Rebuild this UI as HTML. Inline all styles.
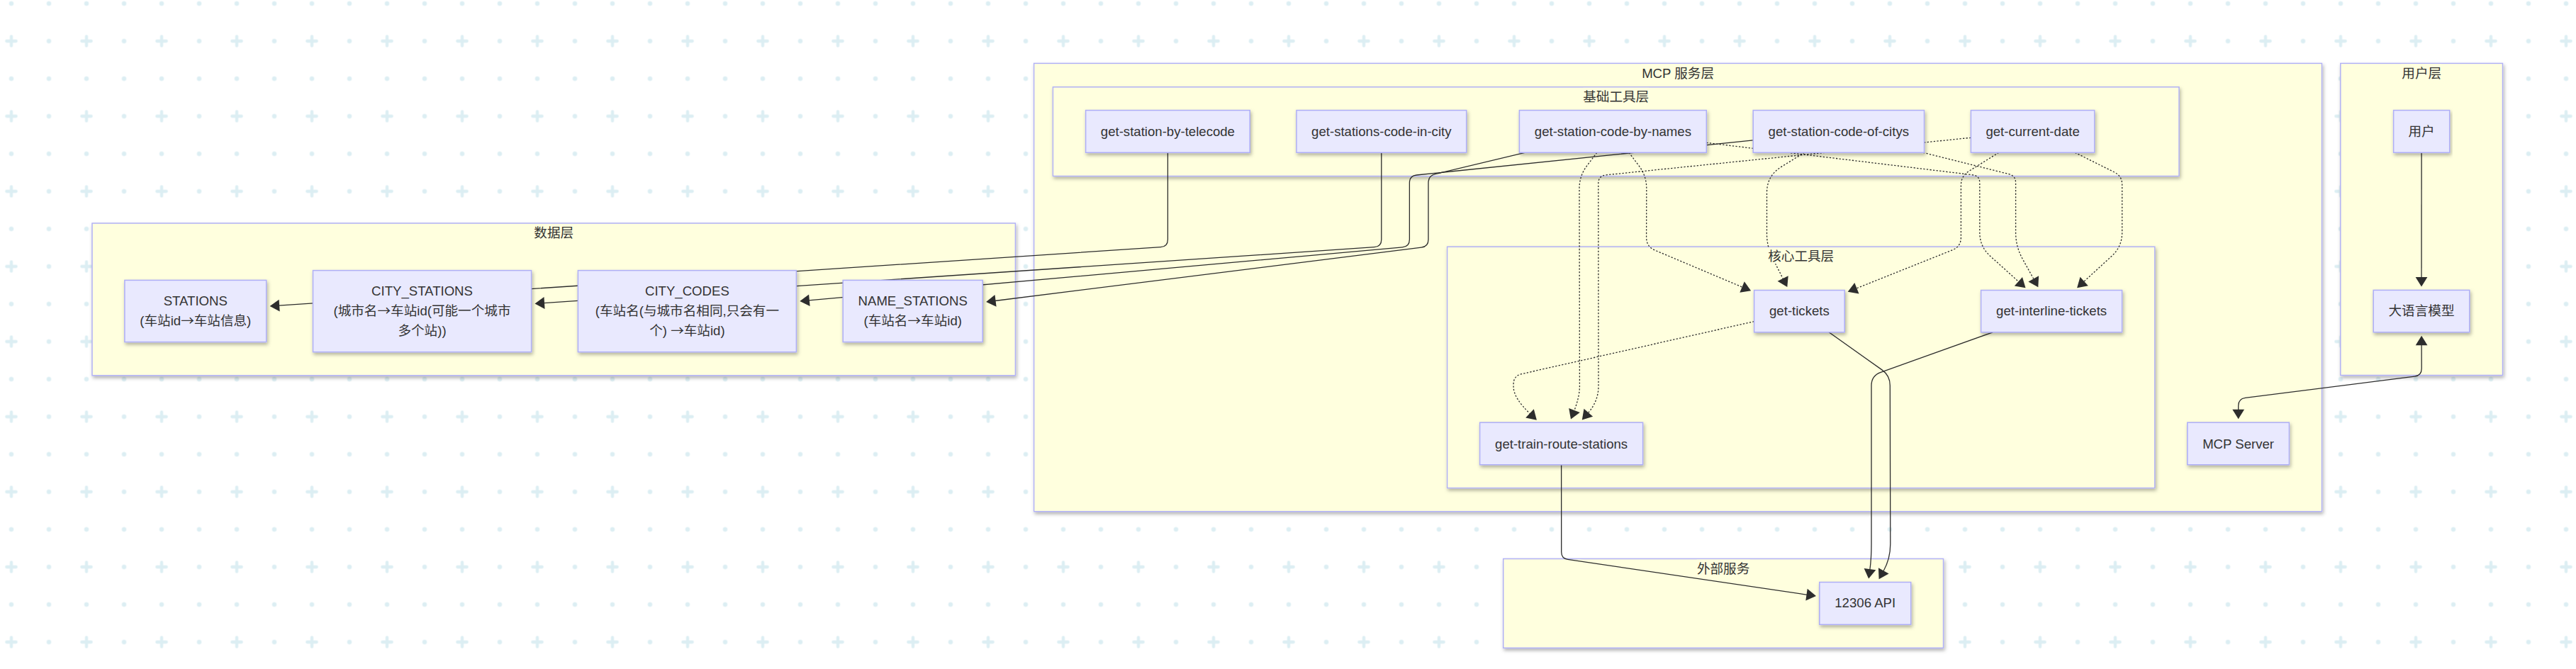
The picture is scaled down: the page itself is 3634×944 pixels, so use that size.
<!DOCTYPE html>
<html lang="zh"><head><meta charset="utf-8"><title>12306 MCP 架构</title>
<style>html,body{margin:0;padding:0;background:#fff;}body{width:3634px;height:944px;overflow:hidden}svg{display:block}text{font-family:"Liberation Sans", "Noto Sans CJK SC", sans-serif;font-size:18.6px;fill:#333;text-anchor:middle}.cj{font-family:"Noto Sans CJK SC",sans-serif}.cl{fill:#ffffde;stroke:#b0b0f6;stroke-width:1.45}.nd{fill:#e9e9fe;stroke:#aeaef6;stroke-width:1.5}.lb{fill:#ffffde}.ed{fill:none;stroke:#2c2c2c;stroke-width:1.3}.dash{stroke-dasharray:2.3 2.3}.ah{fill:#2d2d2d;stroke:none}</style></head><body>
<svg width="3634" height="944" viewBox="0 0 3634 944">
<defs><pattern id="bg" x="-10.5" y="31.5" width="106" height="106" patternUnits="userSpaceOnUse"><g fill="#dceef3"><circle cx="79.5" cy="26.5" r="3.2"/><circle cx="26.5" cy="79.5" r="3.2"/><circle cx="79.5" cy="79.5" r="3.2"/></g><path d="M19.8 26.5H33.2M26.5 19.8V33.2" stroke="#dceef3" stroke-width="4.3" stroke-linecap="round" fill="none"/></pattern><filter id="sh" x="-5%" y="-20%" width="110%" height="150%"><feDropShadow dx="1.5" dy="3" stdDeviation="2.6" flood-color="#000" flood-opacity="0.3"/></filter></defs>
<rect width="3634" height="944" fill="#fff"/><rect width="3634" height="944" fill="url(#bg)"/>
<rect class="cl" filter="url(#sh)" x="130" y="315" width="1302.4" height="214.8"/>
<rect class="cl" filter="url(#sh)" x="1458.6" y="89.4" width="1816.9" height="632.3"/>
<rect class="cl" filter="url(#sh)" x="1485.4" y="122.8" width="1588.6" height="125.7"/>
<rect class="cl" filter="url(#sh)" x="2041.6" y="348.2" width="998.2" height="340.4"/>
<rect class="cl" filter="url(#sh)" x="3301.8" y="89.4" width="228.7" height="440.1"/>
<rect class="cl" filter="url(#sh)" x="2120.7" y="788.5" width="620.8" height="125.8"/>
<g>
<path class="ed" d="M1647.4 215.3L1647.4 338.0Q1647.4 348.0 1637.4 348.7L393.2 431.2"/>
<path class="ah" d="M380.6 432.0L393.6 422.8L394.7 439.5Z"/>
<path class="ed" d="M1948.8 215.3L1948.8 338.0Q1948.8 348.0 1938.8 348.7L767.1 427.6"/>
<path class="ah" d="M754.5 428.4L767.5 419.1L768.6 435.9Z"/>
<path class="ed" d="M2473.2 197.9L1998.3 247.0Q1988.4 248.0 1988.4 258.0L1988.4 338.0Q1988.4 348.0 1978.4 348.9L1140.8 423.8"/>
<path class="ah" d="M1128.3 424.9L1141.1 415.4L1142.6 432.1Z"/>
<path class="ed" d="M2151.1 215.3L2024.7 245.7Q2015.0 248.0 2015.0 258.0L2015.0 338.0Q2015.0 348.0 2005.1 349.2L1403.6 424.5"/>
<path class="ah" d="M1391.1 426.1L1403.5 416.0L1405.6 432.7Z"/>
<path class="ed" d="M3416.1 215.3L3416.0 391.9"/>
<path class="ah" d="M3416.0 404.5L3407.6 390.9L3424.4 390.9Z"/>
<path class="ed" d="M3416.1 486.3L3416.2 520.0Q3416.2 530.0 3406.3 531.2L3167.6 561.3Q3157.7 562.5 3157.7 572.5L3157.7 578.7"/>
<path class="ah" d="M3416.1 473.7L3424.5 487.3L3407.7 487.3Z"/>
<path class="ah" d="M3157.7 591.3L3149.3 577.7L3166.1 577.7Z"/>
<path class="ed" d="M2202.6 655.8L2202.7 779.0Q2202.7 788.0 2211.6 789.3L2549.5 839.3"/>
<path class="ah" d="M2562.0 841.1L2547.3 847.5L2549.7 830.8Z"/>
<path class="ed" d="M2580.1 468.8L2654.9 521.9Q2666.3 530.0 2666.3 544.0L2666.8 767.5Q2666.8 788.5 2656.8 806.3L2656.8 806.3"/>
<path class="ah" d="M2650.6 817.2L2649.9 801.3L2664.6 809.5Z"/>
<path class="ed" d="M2811.2 468.8L2653.2 525.3Q2640.0 530.0 2640.0 544.0L2640.0 767.5Q2640.0 788.5 2637.8 804.2L2637.8 804.2"/>
<path class="ah" d="M2636.1 816.6L2629.6 802.0L2646.3 804.3Z"/>
<path class="ed dash" d="M2252.8 215.3L2238.9 233.6Q2228.0 248.0 2228.0 266.0L2228.4 545.0Q2228.4 560.0 2220.6 579.9L2220.6 579.9"/>
<path class="ah" d="M2216.0 591.6L2213.2 575.9L2228.8 582.0Z"/>
<path class="ed dash" d="M2298.0 215.3L2311.9 233.7Q2322.8 248.0 2322.8 266.0L2322.6 335.0Q2322.6 348.0 2334.6 353.1L2458.5 405.4"/>
<path class="ah" d="M2470.1 410.3L2454.3 412.7L2460.8 397.3Z"/>
<path class="ed dash" d="M2407.3 201.4L2782.9 246.8Q2792.8 248.0 2792.8 258.0L2792.8 328.0Q2792.8 348.0 2807.7 361.4L2848.1 397.8"/>
<path class="ah" d="M2857.5 406.2L2841.8 403.4L2853.0 390.9Z"/>
<path class="ed dash" d="M2545.5 215.3L2512.9 235.4Q2492.5 248.0 2492.5 272.0L2492.5 330.0Q2492.5 348.0 2500.6 364.1L2515.6 393.9"/>
<path class="ah" d="M2521.3 405.1L2507.6 396.8L2522.7 389.2Z"/>
<path class="ed dash" d="M2713.0 215.3L2833.9 245.6Q2843.6 248.0 2843.6 258.0L2843.6 328.0Q2843.6 348.0 2853.3 365.5L2869.2 394.2"/>
<path class="ah" d="M2875.3 405.2L2861.4 397.4L2876.1 389.2Z"/>
<path class="ed dash" d="M2780.4 194.3L2265.7 246.9Q2254.8 248.0 2254.8 259.0L2255.0 545.0Q2255.0 566.0 2240.1 583.0L2240.1 583.0"/>
<path class="ah" d="M2231.8 592.5L2234.5 576.7L2247.1 587.8Z"/>
<path class="ed dash" d="M2819.7 215.3L2777.4 241.6Q2766.4 248.5 2766.4 261.5L2766.4 335.0Q2766.4 348.0 2754.3 352.8L2618.4 407.1"/>
<path class="ah" d="M2606.7 411.8L2616.3 399.0L2622.5 414.6Z"/>
<path class="ed dash" d="M2927.3 215.3L2983.0 243.1Q2993.7 248.5 2993.7 260.5L2993.7 328.0Q2993.7 348.0 2978.9 361.5L2939.4 397.7"/>
<path class="ah" d="M2930.1 406.2L2934.5 390.8L2945.8 403.2Z"/>
<path class="ed dash" d="M2474.6 453.6L2146.8 527.6Q2135.1 530.2 2135.1 542.2L2135.1 545.9Q2135.1 561.5 2158.8 584.1L2158.8 584.1"/>
<path class="ah" d="M2167.9 592.8L2152.2 589.5L2163.8 577.3Z"/>
</g>
<rect class="lb" x="753.2" y="316.0" width="56" height="23"/>
<text x="781.2" y="335.2">数据层</text>
<rect class="lb" x="2316.1" y="90.4" width="102" height="23"/>
<text x="2367.1" y="109.6">MCP 服务层</text>
<rect class="lb" x="2233.2" y="123.8" width="93" height="23"/>
<text x="2279.7" y="143.0">基础工具层</text>
<rect class="lb" x="2494.2" y="349.2" width="93" height="23"/>
<text x="2540.7" y="368.4">核心工具层</text>
<rect class="lb" x="3388.2" y="90.4" width="56" height="23"/>
<text x="3416.2" y="109.6">用户层</text>
<rect class="lb" x="2393.6" y="789.5" width="75" height="23"/>
<text x="2431.1" y="808.7">外部服务</text>
<rect class="nd" filter="url(#sh)" x="175.9" y="395.4" width="199.8" height="87.2"/>
<rect class="nd" filter="url(#sh)" x="441.5" y="381.6" width="308.1" height="115.1"/>
<rect class="nd" filter="url(#sh)" x="815.4" y="381.6" width="308.0" height="115.1"/>
<rect class="nd" filter="url(#sh)" x="1189.2" y="395.4" width="197.0" height="87.2"/>
<rect class="nd" filter="url(#sh)" x="1531.6" y="155.6" width="231.6" height="59.7"/>
<rect class="nd" filter="url(#sh)" x="1829" y="155.6" width="239.7" height="59.7"/>
<rect class="nd" filter="url(#sh)" x="2143.4" y="155.6" width="263.9" height="59.7"/>
<rect class="nd" filter="url(#sh)" x="2473.2" y="155.6" width="241.3" height="59.7"/>
<rect class="nd" filter="url(#sh)" x="2780.4" y="155.6" width="174.3" height="59.7"/>
<rect class="nd" filter="url(#sh)" x="3376.6" y="155.6" width="79.1" height="59.7"/>
<rect class="nd" filter="url(#sh)" x="3348.2" y="409.4" width="135.6" height="59.4"/>
<rect class="nd" filter="url(#sh)" x="3085.8" y="596.2" width="143.6" height="59.6"/>
<rect class="nd" filter="url(#sh)" x="2474.6" y="409.5" width="127.6" height="59.3"/>
<rect class="nd" filter="url(#sh)" x="2794.6" y="409.5" width="199.0" height="59.3"/>
<rect class="nd" filter="url(#sh)" x="2087.6" y="596.2" width="230.0" height="59.6"/>
<rect class="nd" filter="url(#sh)" x="2566.8" y="821.5" width="128.9" height="59.8"/>
<text x="275.8" y="430.7">STATIONS</text>
<text x="275.8" y="458.6">(车站id<tspan class="cj">→</tspan>车站信息)</text>
<text x="595.5" y="417.0">CITY_STATIONS</text>
<text x="595.5" y="444.9">(城市名<tspan class="cj">→</tspan>车站id(可能一个城市</text>
<text x="595.5" y="472.8">多个站))</text>
<text x="969.4" y="417.0">CITY_CODES</text>
<text x="969.4" y="444.9">(车站名(与城市名相同,只会有一</text>
<text x="969.4" y="472.8">个) <tspan class="cj">→</tspan>车站id)</text>
<text x="1287.7" y="430.7">NAME_STATIONS</text>
<text x="1287.7" y="458.6">(车站名<tspan class="cj">→</tspan>车站id)</text>
<text x="1647.4" y="192.2">get-station-by-telecode</text>
<text x="1948.8" y="192.2">get-stations-code-in-city</text>
<text x="2275.4" y="192.2">get-station-code-by-names</text>
<text x="2593.8" y="192.2">get-station-code-of-citys</text>
<text x="2867.6" y="192.2">get-current-date</text>
<text x="3416.1" y="192.2">用户</text>
<text x="3416.0" y="444.7">大语言模型</text>
<text x="3157.6" y="632.8">MCP Server</text>
<text x="2538.4" y="444.6">get-tickets</text>
<text x="2894.1" y="444.6">get-interline-tickets</text>
<text x="2202.6" y="632.8">get-train-route-stations</text>
<text x="2631.2" y="857.2">12306 API</text>
</svg></body></html>
